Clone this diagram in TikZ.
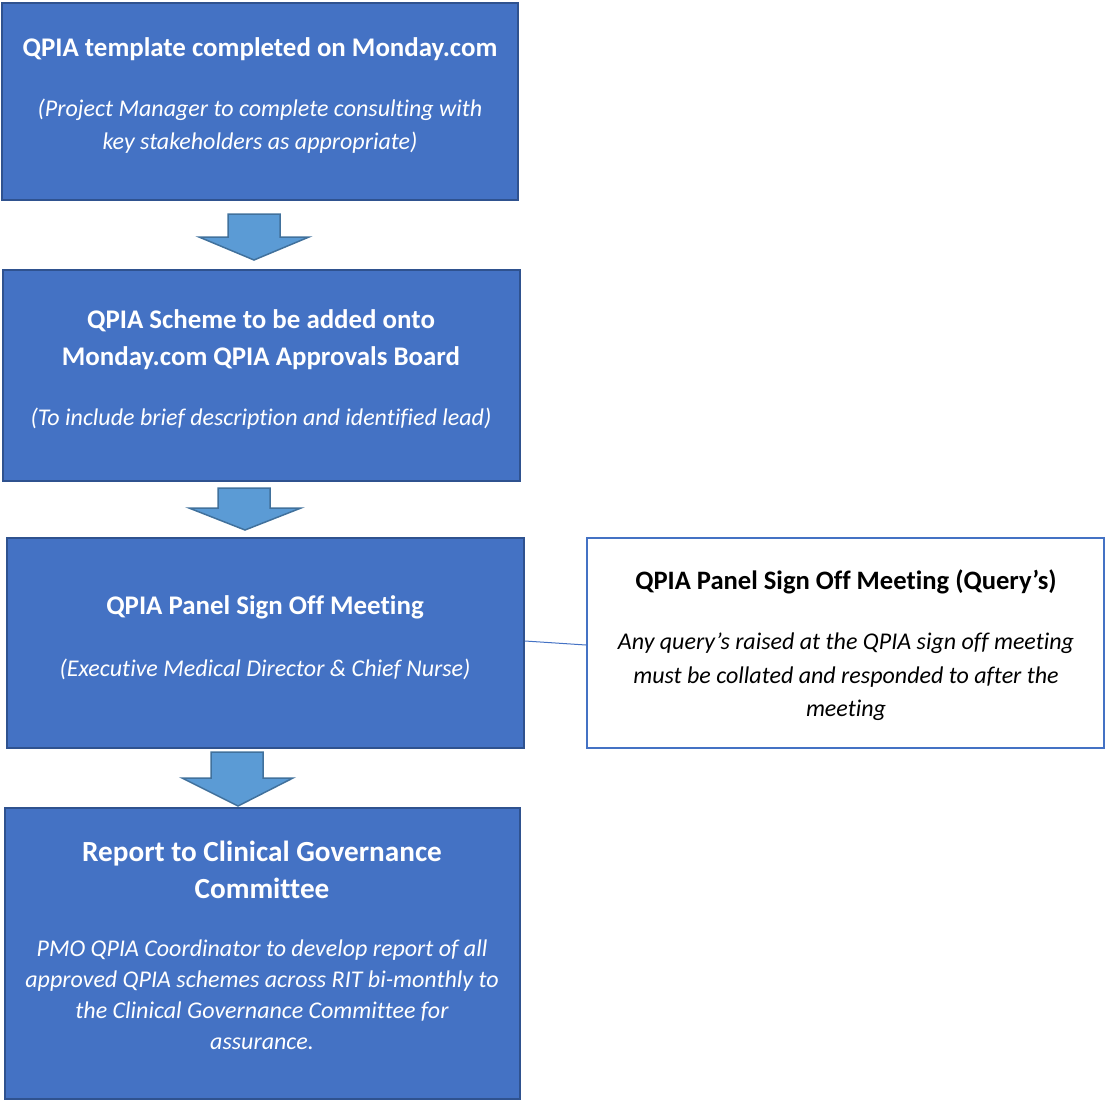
\documentclass[tikz,border=0pt]{standalone}
\usepackage{fontspec}
\setmainfont[Ligatures=NoCommon]{Carlito}
\definecolor{boxfill}{HTML}{4472C4}
\definecolor{boxedge}{HTML}{2F528F}
\definecolor{arrfill}{HTML}{5B9BD5}
\definecolor{arredge}{HTML}{41719C}
\begin{document}
\begin{tikzpicture}[x=1pt,y=-1pt,
  bluebox/.style={draw=boxedge,fill=boxfill,line width=2pt,inner sep=0pt},
  whitebox/.style={draw=boxfill,fill=white,line width=2pt,inner sep=0pt},
  blockarrow/.style={draw=arredge,fill=arrfill,line width=1.5pt,line join=miter},
  ttl/.style={text=white,font=\bfseries\fontsize{26.9}{37}\selectfont,align=center,inner sep=0pt},
  sub/.style={text=white,font=\itshape\fontsize{24}{33}\selectfont,align=center,inner sep=0pt},
  qttl/.style={text=black,font=\bfseries\fontsize{26.6}{33}\selectfont,align=center,inner sep=0pt},
  qsub/.style={text=black,font=\itshape\fontsize{24}{33.5}\selectfont,align=center,inner sep=0pt}]
\useasboundingbox (0,0) rectangle (1105,1101);
% boxes
\node[bluebox,minimum width=516pt,minimum height=197pt] (b1) at (260,101.5) {};
\node[bluebox,minimum width=517pt,minimum height=211pt] (b2) at (261.5,375.5) {};
\node[bluebox,minimum width=517pt,minimum height=210pt] (b3) at (265.5,643) {};
\node[bluebox,minimum width=515pt,minimum height=291pt] (b4) at (262.5,953.5) {};
\node[whitebox,minimum width=517pt,minimum height=210pt] (q) at (845.5,643) {};
% block arrows
\draw[blockarrow] (228,214) -- (280,214) -- (280,237) -- (309,237) -- (254,260) -- (199,237) -- (228,237) -- cycle;
\draw[blockarrow] (218,488) -- (270,488) -- (270,508) -- (301,508) -- (245,530) -- (189,508) -- (218,508) -- cycle;
\draw[blockarrow] (211,752) -- (263,752) -- (263,778) -- (293,778) -- (238,806) -- (182,778) -- (211,778) -- cycle;
% connector
\draw[draw=boxfill,line width=1pt] ([yshift=2pt]b3.east) -- ([yshift=-2pt]q.west);
% texts
\node[ttl] (t1) at (260,49) {QPIA template completed on Monday.com};
\node[sub] (s1) at (260,126.5) {(Project Manager to complete consulting with\\key stakeholders as appropriate)};
\node[ttl] (t2) at (261,339.5) {QPIA Scheme to be added onto\\Monday.com QPIA Approvals Board};
\node[sub] (s2) at (261,419) {(To include brief description and identified lead)};
\node[ttl] (t3) at (265,607) {QPIA Panel Sign Off Meeting};
\node[sub] (s3) at (265,669) {(Executive Medical Director \& Chief Nurse)};
\node[ttl,font=\bfseries\fontsize{29.2}{37}\selectfont] (t4) at (262,870) {Report to Clinical Governance\\Committee};
\node[sub,font=\itshape\fontsize{24}{31}\selectfont] (s4) at (262,994.5) {PMO QPIA Coordinator to develop report of all\\approved QPIA schemes across RIT bi-monthly to\\the Clinical Governance Committee for\\assurance.};
\node[qttl] (tq) at (846,582) {QPIA Panel Sign Off Meeting (Query’s)};
\node[qsub] (sq) at (846,677) {Any query’s raised at the QPIA sign off meeting\\must be collated and responded to after the\\meeting};
\end{tikzpicture}
\end{document}
